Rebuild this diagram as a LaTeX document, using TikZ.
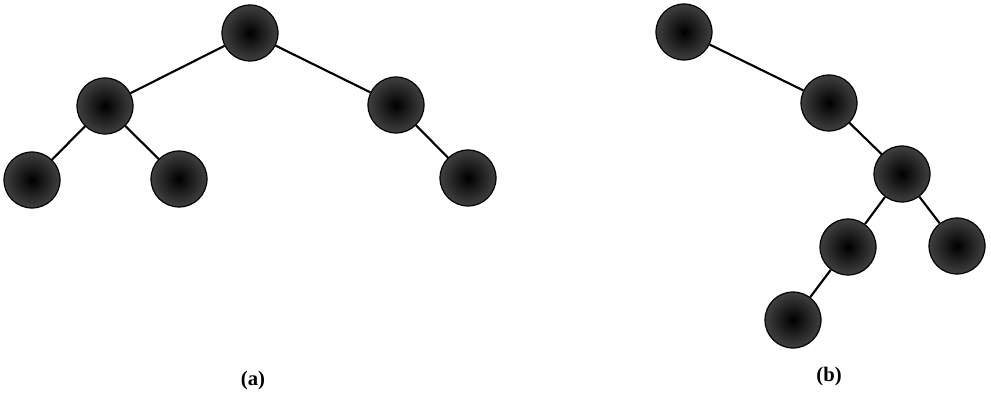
\documentclass[tikz,border=0pt]{standalone}
\usepackage{fontspec}
\setmainfont{Liberation Serif}
\tikzset{
    vertex/.style={circle, minimum size=42pt, inner sep=0pt, draw=black, line width=0.9pt, inner color=black, outer color=black!75},
    edge/.style={line width=1.6pt, black},
    caption/.style={font=\fontsize{15.5}{18}\selectfont\bfseries}
}

\begin{document}
\begin{tikzpicture}[x=0.75pt, y=-0.75pt]
    \useasboundingbox (0,0) rectangle (991,395);
    % Baum (a)
    \node[vertex] (ar)  at (250,33)  {};
    \node[vertex] (al)  at (105,106) {};
    \node[vertex] (arr) at (396,105) {};
    \node[vertex] (all) at (32,180)  {};
    \node[vertex] (alr) at (179,179) {};
    \node[vertex] (arx) at (468,178) {};
    \draw[edge] (ar) -- (al); \draw[edge] (ar) -- (arr);
    \draw[edge] (al) -- (all); \draw[edge] (al) -- (alr);
    \draw[edge] (arr) -- (arx);
    \node[caption] (capa) at (253,381) {(a)};

    % Baum (b)
    \node[vertex] (br) at (684,32)  {};
    \node[vertex] (b1) at (829,103) {};
    \node[vertex] (b2) at (902,174) {};
    \node[vertex] (b3) at (848,247) {};
    \node[vertex] (b4) at (957,246) {};
    \node[vertex] (b5) at (793,320) {};
    \draw[edge] (br) -- (b1); \draw[edge] (b1) -- (b2);
    \draw[edge] (b2) -- (b3); \draw[edge] (b2) -- (b4);
    \draw[edge] (b3) -- (b5);
    \node[caption] (capb) at (829,377) {(b)};
\end{tikzpicture}
\end{document}
